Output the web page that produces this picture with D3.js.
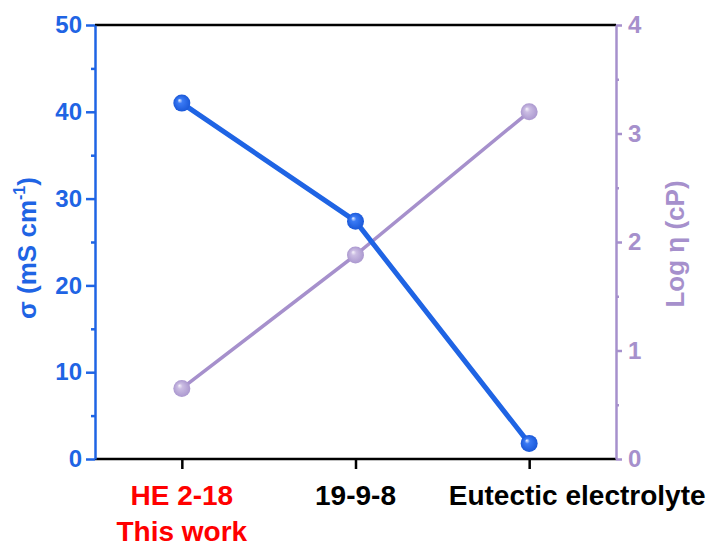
<!DOCTYPE html>
<html>
<head>
<meta charset="utf-8">
<script src="https://cdn.jsdelivr.net/npm/d3@7"></script>
<style>
  html, body { margin: 0; padding: 0; background: #fff; }
  svg { display: block; font-family: "Liberation Sans", Arial, sans-serif; font-weight: bold; }
</style>
</head>
<body>
<svg id="chart" width="716" height="548"></svg>
<script>
// Electrolyte samples
const categories = ["HE 2-18", "19-9-8", "Eutectic electrolyte"];
const subLabels = ["This work", "", ""];
const labelColors = ["#ff0000", "#000000", "#000000"];
// Ionic conductivity σ (mS cm-1)
const sigma = [41.0, 27.4, 1.8];
// Viscosity, log η (cP)
const logEta = [0.65, 1.88, 3.2];
const sigmaTicks = [0, 10, 20, 30, 40, 50];
const etaTicks = [0, 1, 2, 3, 4];

const blue = "#1f64e4";
const purple = "#a690cc";

const svg = d3.select("#chart");
const plotL = 95, plotR = 616, plotT = 25, plotB = 459;

const x = d3.scalePoint().domain(categories).range([plotL, plotR]).padding(0.5);
const yL = d3.scaleLinear().domain([0, 50]).range([plotB, plotT]);
const yR = d3.scaleLinear().domain([0, 4]).range([plotB, plotT]);

// sphere-like marker gradients
const defs = svg.append("defs");
function sphere(id, hi, mid, edge) {
  const g = defs.append("radialGradient").attr("id", id)
    .attr("cx", "50%").attr("cy", "50%").attr("r", "50%")
    .attr("fx", "35%").attr("fy", "32%");
  g.append("stop").attr("offset", "0%").attr("stop-color", hi);
  g.append("stop").attr("offset", "30%").attr("stop-color", mid);
  g.append("stop").attr("offset", "100%").attr("stop-color", edge);
}
sphere("ballBlue", "#f0f5ff", "#3a7af5", "#1a58d8");
sphere("ballPurple", "#f7f4fb", "#cbbde3", "#ab98cf");

// frame: top black line
svg.append("line").attr("x1", plotL).attr("x2", plotR).attr("y1", plotT).attr("y2", plotT)
  .attr("stroke", "#000").attr("stroke-width", 2.5);

// bottom category axis
const gx = svg.append("g").attr("transform", `translate(0,${plotB})`)
  .call(d3.axisBottom(x).tickSize(10).tickSizeOuter(0).tickFormat(""));
gx.select(".domain").attr("stroke", "#000").attr("stroke-width", 2.5)
  .attr("d", `M${plotL},0H${plotR}`);
gx.selectAll(".tick line").attr("stroke", "#000").attr("stroke-width", 2.5);

// category labels
const catG = svg.append("g").attr("font-size", 28).attr("text-anchor", "middle");
categories.forEach((c, i) => {
  const dx = i === categories.length - 1 ? 48 : 0;
  catG.append("text").attr("x", x(c) + dx).attr("y", 505).attr("fill", labelColors[i]).text(c);
  if (subLabels[i]) {
    catG.append("text").attr("x", x(c) + dx).attr("y", 541).attr("fill", labelColors[i]).text(subLabels[i]);
  }
});

// left axis (σ)
const gl = svg.append("g").attr("transform", `translate(${plotL},0)`)
  .call(d3.axisLeft(yL).tickValues(sigmaTicks).tickSize(9).tickSizeOuter(0).tickPadding(4));
gl.select(".domain").attr("stroke", blue).attr("stroke-width", 2.5);
gl.selectAll(".tick line").attr("stroke", blue).attr("stroke-width", 2.5);
gl.selectAll(".tick text").attr("fill", blue).attr("font-size", 24)
  .attr("font-family", "Liberation Sans, Arial, sans-serif").attr("font-weight", "bold");
svg.append("g").attr("transform", `translate(${plotL},0)`)
  .call(d3.axisLeft(yL).tickValues(d3.range(5, 50, 10)).tickSize(4).tickFormat(""))
  .call(g => g.select(".domain").remove())
  .selectAll(".tick line").attr("stroke", blue).attr("stroke-width", 2.5);

// right axis (log η)
const gr = svg.append("g").attr("transform", `translate(${plotR},0)`)
  .call(d3.axisRight(yR).tickValues(etaTicks).tickFormat(d3.format("d"))
    .tickSize(6).tickSizeOuter(0).tickPadding(6));
gr.select(".domain").attr("stroke", purple).attr("stroke-width", 2.5);
gr.selectAll(".tick line").attr("stroke", purple).attr("stroke-width", 2.5);
gr.selectAll(".tick text").attr("fill", purple).attr("font-size", 24)
  .attr("font-family", "Liberation Sans, Arial, sans-serif").attr("font-weight", "bold");
svg.append("g").attr("transform", `translate(${plotR},0)`)
  .call(d3.axisRight(yR).tickValues(d3.range(0.5, 4, 1)).tickSize(3).tickFormat(""))
  .call(g => g.select(".domain").remove())
  .selectAll(".tick line").attr("stroke", purple).attr("stroke-width", 2.5);

// axis titles
const lt = svg.append("text").attr("transform", `translate(36,${(plotT + plotB) / 2 + 6}) rotate(-90)`)
  .attr("text-anchor", "middle").attr("font-size", 26).attr("fill", blue);
lt.append("tspan").text("σ (mS cm");
lt.append("tspan").attr("font-size", 16).attr("dy", -11).text("-1");
lt.append("tspan").attr("dy", 11).text(")");

svg.append("text").attr("transform", `translate(684,${(plotT + plotB) / 2 + 2}) rotate(-90)`)
  .attr("text-anchor", "middle").attr("font-size", 26).attr("fill", purple)
  .text("Log η (cP)");

// series lines
const lineL = d3.line().x((d, i) => x(categories[i])).y(d => yL(d));
const lineR = d3.line().x((d, i) => x(categories[i])).y(d => yR(d));

svg.append("path").datum(logEta).attr("d", lineR)
  .attr("fill", "none").attr("stroke", purple).attr("stroke-width", 3.5);
svg.append("path").datum(sigma).attr("d", lineL)
  .attr("fill", "none").attr("stroke", blue).attr("stroke-width", 5);

svg.append("g").selectAll("circle").data(logEta).join("circle")
  .attr("cx", (d, i) => x(categories[i])).attr("cy", d => yR(d)).attr("r", 8.5)
  .attr("fill", "url(#ballPurple)");
svg.append("g").selectAll("circle").data(sigma).join("circle")
  .attr("cx", (d, i) => x(categories[i])).attr("cy", d => yL(d)).attr("r", 8.5)
  .attr("fill", "url(#ballBlue)");
</script>
</body>
</html>
